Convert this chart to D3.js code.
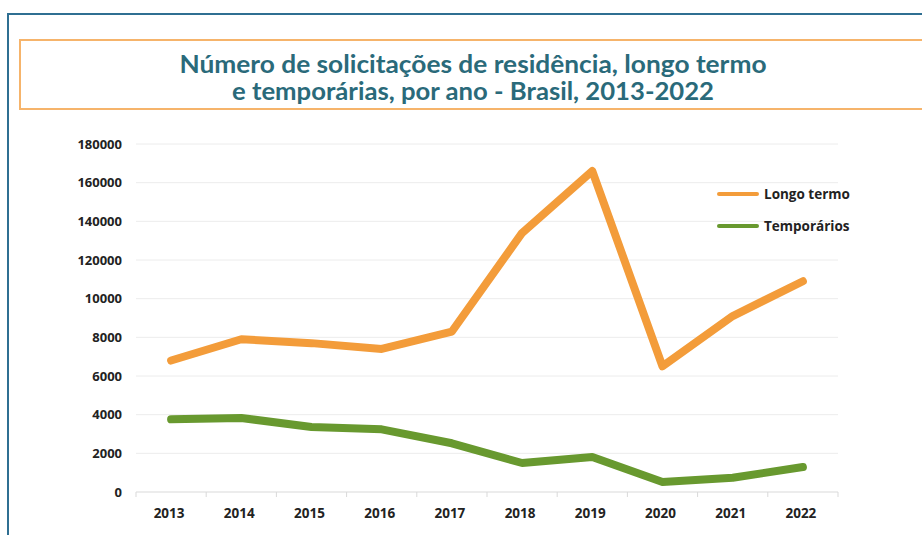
<!DOCTYPE html>
<html>
<head>
<meta charset="utf-8">
<script src="https://cdn.jsdelivr.net/npm/d3@7"></script>
<style>
  html, body { margin: 0; padding: 0; background: #fff; }
  svg { display: block; }
</style>
</head>
<body>
<div id="chart"></div>
<script>
  // Data
  var years = ['2013', '2014', '2015', '2016', '2017', '2018', '2019', '2020', '2021', '2022'];
  var longoTermo = [68000, 79000, 77000, 74000, 83000, 134000, 166000, 65000, 91000, 109000];
  var temporarios = [37600, 38300, 33600, 32400, 25200, 15000, 18100, 5200, 7400, 12900];
  var yTickValues = [0, 20000, 40000, 60000, 80000, 100000, 120000, 140000, 160000, 180000];
  var yTickLabels = ['0', '2000', '4000', '6000', '8000', '10000', '120000', '140000', '160000', '180000'];
  var seriesNames = ['Longo termo', 'Temporários'];
  var titleLines = ['Número de solicitações de residência, longo termo', 'e temporárias, por ano - Brasil, 2013-2022'];

  var width = 922, height = 535;
  var plot = { left: 136, right: 838, top: 144, bottom: 492 };
  var colors = { orange: '#f39c3a', green: '#68992f', title: '#2a6a7a', text: '#222' };

  var svg = d3.select('#chart').append('svg')
    .attr('width', width)
    .attr('height', height);

  // Outer frame (top + left rule)
  svg.append('path')
    .attr('d', 'M8,' + height + 'V14H' + width)
    .attr('fill', 'none')
    .attr('stroke', '#2f6f92')
    .attr('stroke-width', 2);

  // Title box
  svg.append('rect')
    .attr('x', 20).attr('y', 40)
    .attr('width', width + 10).attr('height', 69)
    .attr('fill', 'none')
    .attr('stroke', '#f6b46b')
    .attr('stroke-width', 2);

  var titleWidths = [587, 482];
  svg.selectAll('.title')
    .data(titleLines)
    .enter().append('text')
    .attr('class', 'title')
    .attr('x', 473)
    .attr('y', function (d, i) { return 73 + i * 27; })
    .attr('text-anchor', 'middle')
    .attr('textLength', function (d, i) { return titleWidths[i]; })
    .attr('lengthAdjust', 'spacingAndGlyphs')
    .attr('font-family', 'Lato, "Open Sans", sans-serif')
    .attr('font-weight', 700)
    .attr('font-size', 24)
    .attr('fill', colors.title)
    .text(function (d) { return d; });

  // Scales
  var x = d3.scalePoint().domain(years).range([plot.left, plot.right]).padding(0.5);
  var xBand = d3.scaleBand().domain(years).range([plot.left, plot.right]);
  var y = d3.scaleLinear().domain([0, 180000]).range([plot.bottom, plot.top]);

  // Gridlines
  svg.append('g')
    .selectAll('line')
    .data(yTickValues.slice(1))
    .enter().append('line')
    .attr('x1', plot.left).attr('x2', plot.right)
    .attr('y1', function (d) { return y(d); })
    .attr('y2', function (d) { return y(d); })
    .attr('stroke', '#ececec')
    .attr('stroke-width', 1);

  // Y axis labels
  var yAxis = d3.axisLeft(y)
    .tickValues(yTickValues)
    .tickSize(0)
    .tickPadding(14)
    .tickFormat(function (d, i) { return yTickLabels[i]; });

  var gy = svg.append('g')
    .attr('transform', 'translate(' + plot.left + ',0)')
    .call(yAxis);
  gy.select('.domain').remove();
  gy.selectAll('text')
    .attr('font-family', '"Open Sans", sans-serif')
    .attr('font-weight', 700)
    .attr('font-size', 13)
    .attr('fill', colors.text);

  // X axis
  var gx = svg.append('g')
    .attr('transform', 'translate(0,' + plot.bottom + ')');
  gx.append('line')
    .attr('x1', plot.left).attr('x2', plot.right)
    .attr('stroke', '#d9d9d9');
  gx.selectAll('.tick-mark')
    .data(years.concat(['end']))
    .enter().append('line')
    .attr('class', 'tick-mark')
    .attr('x1', function (d) { return d === 'end' ? plot.right : xBand(d); })
    .attr('x2', function (d) { return d === 'end' ? plot.right : xBand(d); })
    .attr('y1', 0).attr('y2', 5)
    .attr('stroke', '#d9d9d9');
  gx.selectAll('.year')
    .data(years)
    .enter().append('text')
    .attr('class', 'year')
    .attr('x', function (d) { return x(d) - 2; })
    .attr('y', 26)
    .attr('text-anchor', 'middle')
    .attr('font-family', '"Open Sans", sans-serif')
    .attr('font-weight', 700)
    .attr('font-size', 13.5)
    .attr('fill', colors.text)
    .text(function (d) { return d; });

  // Lines
  var line = d3.line()
    .x(function (d, i) { return x(years[i]); })
    .y(function (d) { return y(d); });

  [[longoTermo, colors.orange], [temporarios, colors.green]].forEach(function (s) {
    svg.append('path')
      .datum(s[0])
      .attr('d', line)
      .attr('fill', 'none')
      .attr('stroke', s[1])
      .attr('stroke-width', 8)
      .attr('stroke-linejoin', 'round')
      .attr('stroke-linecap', 'round');
  });

  // Legend
  var legend = svg.append('g');
  [[seriesNames[0], colors.orange, 194], [seriesNames[1], colors.green, 226]].forEach(function (s) {
    legend.append('line')
      .attr('x1', 719).attr('x2', 757)
      .attr('y1', s[2]).attr('y2', s[2])
      .attr('stroke', s[1])
      .attr('stroke-width', 4)
      .attr('stroke-linecap', 'round');
    legend.append('text')
      .attr('x', 764)
      .attr('y', s[2] + 5)
      .attr('font-family', '"Open Sans", sans-serif')
      .attr('font-weight', 700)
      .attr('font-size', 13.5)
      .attr('fill', colors.text)
      .text(s[0]);
  });
</script>
</body>
</html>
